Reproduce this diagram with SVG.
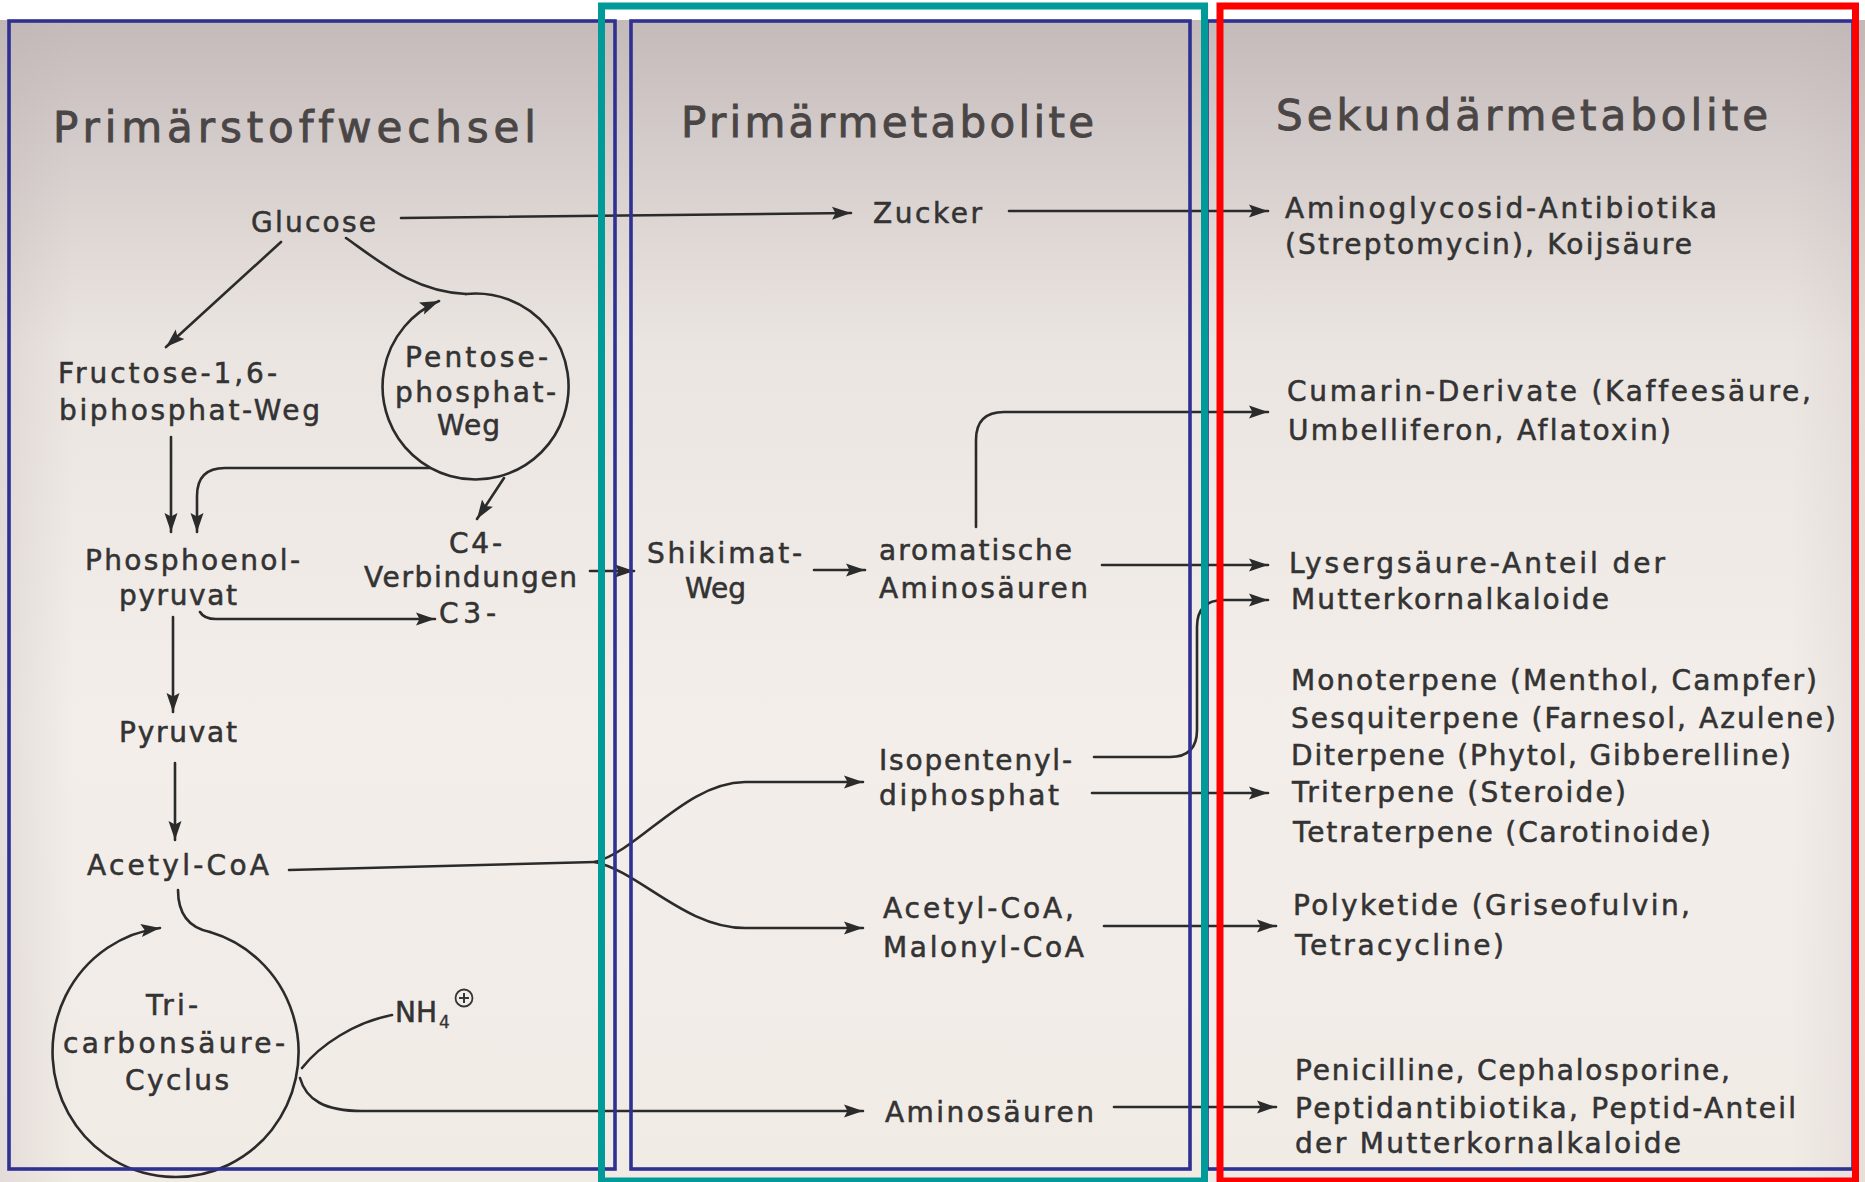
<svg xmlns="http://www.w3.org/2000/svg" width="1865" height="1182" viewBox="0 0 1865 1182">
<defs>
<linearGradient id="paper" x1="0" y1="0" x2="0" y2="1">
<stop offset="0" stop-color="#c4bab9"/>
<stop offset="0.1" stop-color="#d3cbc9"/>
<stop offset="0.28" stop-color="#ebe5e1"/>
<stop offset="0.6" stop-color="#f3eeea"/>
<stop offset="1" stop-color="#f1ebe6"/>
</linearGradient>
<linearGradient id="side" x1="0" y1="0" x2="1" y2="0">
<stop offset="0" stop-color="#b9aead" stop-opacity="0.25"/>
<stop offset="0.04" stop-color="#b9aead" stop-opacity="0"/>
<stop offset="0.96" stop-color="#b9aead" stop-opacity="0"/>
<stop offset="1" stop-color="#b9aead" stop-opacity="0.2"/>
</linearGradient>
<marker id="ah" markerUnits="userSpaceOnUse" markerWidth="22" markerHeight="16" refX="19" refY="7" orient="auto">
<path d="M0,0.5 L19,7 L0,13.5 L3.5,7 z" fill="#2b2b2b"/>
</marker>
</defs>
<style>
.t{font-family:"DejaVu Sans","Liberation Sans",sans-serif;font-size:28px;fill:#333333;stroke:#333333;stroke-width:0.55;font-variant-ligatures:none}
.h{font-family:"DejaVu Sans","Liberation Sans",sans-serif;font-size:42px;fill:#4b4646;stroke:#4b4646;stroke-width:0.9;font-variant-ligatures:none}
.c{fill:none;stroke:#2b2b2b;stroke-width:2.6;stroke-linecap:round;stroke-linejoin:round}
.a{marker-end:url(#ah)}
.fb{fill:none;stroke:#2e3192;stroke-width:3.6}
.ft{fill:none;stroke:#009b98;stroke-width:7}
.fr{fill:none;stroke:#ff0000;stroke-width:7}
</style>
<rect x="0" y="0" width="1865" height="1182" fill="#ffffff"/>
<rect x="0" y="20" width="1865" height="1162" fill="url(#paper)"/>
<rect x="0" y="20" width="1865" height="1162" fill="url(#side)"/>

<g id="headers">
<text class="h" x="53" y="142" textLength="483" lengthAdjust="spacing">Primärstoffwechsel</text>
<text class="h" x="681" y="137" textLength="413" lengthAdjust="spacing">Primärmetabolite</text>
<text class="h" x="1276" y="130" textLength="492" lengthAdjust="spacing">Sekundärmetabolite</text>
</g>

<g id="connectors">
<path class="c a" d="M401 218 L851 213"/>
<path class="c a" d="M1009 211 L1268 211"/>
<path class="c a" d="M281 242 L166 347"/>
<path class="c" d="M346 238 C380 262 415 292 466 294"/>
<path class="c a" d="M466 294 A93 93 0 1 1 439 301"/>
<path class="c a" d="M430 468 H225 Q197 468 197 496 V532"/>
<path class="c a" d="M171 437 V532"/>
<path class="c a" d="M504 478 L477 519"/>
<path class="c a" d="M200 612 Q204 619 216 619 H435"/>
<path class="c a" d="M590 571 H634"/>
<path class="c a" d="M173 617 V712"/>
<path class="c a" d="M175 763 V840"/>
<path class="c" d="M289 870 L595 862"/>
<path class="c a" d="M595 862 C640 850 685 783 745 782 H863"/>
<path class="c a" d="M595 862 C640 872 685 928 745 928 H863"/>
<path class="c" d="M178 890 C178 915 190 928 210 932"/>
<path class="c a" d="M210 932 A123 125 0 1 1 160 928"/>
<path class="c" d="M302 1068 C320 1045 355 1022 392 1015"/>
<path class="c a" d="M300 1078 C306 1100 325 1111 362 1111 H863"/>
<path class="c a" d="M814 570 H865"/>
<path class="c a" d="M1102 565 H1268"/>
<path class="c a" d="M976 527 V440 Q976 412 1004 412 H1268"/>
<path class="c a" d="M1094 757 H1170 Q1197 757 1197 730 V627 Q1197 600 1224 600 H1268"/>
<path class="c a" d="M1092 793 H1268"/>
<path class="c a" d="M1104 926 H1276"/>
<path class="c a" d="M1114 1107 H1276"/>
</g>

<g id="node-glucose"><text class="t" x="251" y="232" textLength="125" lengthAdjust="spacing">Glucose</text></g>
<g id="node-fructose">
<text class="t" x="58" y="383" textLength="219" lengthAdjust="spacing">Fructose-1,6-</text>
<text class="t" x="59" y="420" textLength="261" lengthAdjust="spacing">biphosphat-Weg</text>
</g>
<g id="node-pentose">
<text class="t" x="405" y="367" textLength="143" lengthAdjust="spacing">Pentose-</text>
<text class="t" x="395" y="402" textLength="161" lengthAdjust="spacing">phosphat-</text>
<text class="t" x="437" y="435" textLength="63" lengthAdjust="spacing">Weg</text>
</g>
<g id="node-pep">
<text class="t" x="85" y="570" textLength="215" lengthAdjust="spacing">Phosphoenol-</text>
<text class="t" x="119" y="605" textLength="118" lengthAdjust="spacing">pyruvat</text>
</g>
<g id="node-c4c3">
<text class="t" x="449" y="553" textLength="53" lengthAdjust="spacing">C4-</text>
<text class="t" x="364" y="587" textLength="213" lengthAdjust="spacing">Verbindungen</text>
<text class="t" x="439" y="623" textLength="57" lengthAdjust="spacing">C3-</text>
</g>
<g id="node-pyruvat"><text class="t" x="119" y="742" textLength="118" lengthAdjust="spacing">Pyruvat</text></g>
<g id="node-acetylcoa"><text class="t" x="87" y="875" textLength="182" lengthAdjust="spacing">Acetyl-CoA</text></g>
<g id="node-tca">
<text class="t" x="146" y="1015" textLength="52" lengthAdjust="spacing">Tri-</text>
<text class="t" x="63" y="1053" textLength="222" lengthAdjust="spacing">carbonsäure-</text>
<text class="t" x="125" y="1090" textLength="104" lengthAdjust="spacing">Cyclus</text>
</g>
<g id="node-nh4">
<text class="t" x="395" y="1022" textLength="42" lengthAdjust="spacing">NH</text>
<text class="t" x="439" y="1028" style="font-size:17px;stroke-width:0.3">4</text>
<circle cx="464" cy="998" r="8.5" fill="none" stroke="#353535" stroke-width="1.8"/>
<path d="M459 998 H469 M464 993 V1003" stroke="#353535" stroke-width="2" fill="none"/>
</g>

<g id="node-zucker"><text class="t" x="873" y="223" textLength="109" lengthAdjust="spacing">Zucker</text></g>
<g id="node-shikimat">
<text class="t" x="647" y="563" textLength="155" lengthAdjust="spacing">Shikimat-</text>
<text class="t" x="685" y="598" textLength="61" lengthAdjust="spacing">Weg</text>
</g>
<g id="node-aromatische">
<text class="t" x="879" y="560" textLength="193" lengthAdjust="spacing">aromatische</text>
<text class="t" x="879" y="598" textLength="209" lengthAdjust="spacing">Aminosäuren</text>
</g>
<g id="node-isopentenyl">
<text class="t" x="879" y="770" textLength="193" lengthAdjust="spacing">Isopentenyl-</text>
<text class="t" x="879" y="805" textLength="180" lengthAdjust="spacing">diphosphat</text>
</g>
<g id="node-malonyl">
<text class="t" x="883" y="918" textLength="191" lengthAdjust="spacing">Acetyl-CoA,</text>
<text class="t" x="883" y="957" textLength="201" lengthAdjust="spacing">Malonyl-CoA</text>
</g>
<g id="node-aminosaeuren"><text class="t" x="885" y="1122" textLength="209" lengthAdjust="spacing">Aminosäuren</text></g>

<g id="node-aminoglycosid">
<text class="t" x="1285" y="218" textLength="432" lengthAdjust="spacing">Aminoglycosid-Antibiotika</text>
<text class="t" x="1285" y="254" textLength="407" lengthAdjust="spacing">(Streptomycin), Koijsäure</text>
</g>
<g id="node-cumarin">
<text class="t" x="1287" y="401" textLength="524" lengthAdjust="spacing">Cumarin-Derivate (Kaffeesäure,</text>
<text class="t" x="1288" y="440" textLength="383" lengthAdjust="spacing">Umbelliferon, Aflatoxin)</text>
</g>
<g id="node-lysergsaeure">
<text class="t" x="1289" y="573" textLength="376" lengthAdjust="spacing">Lysergsäure-Anteil der</text>
<text class="t" x="1291" y="609" textLength="318" lengthAdjust="spacing">Mutterkornalkaloide</text>
</g>
<g id="node-terpene">
<text class="t" x="1291" y="690" textLength="526" lengthAdjust="spacing">Monoterpene (Menthol, Campfer)</text>
<text class="t" x="1291" y="728" textLength="545" lengthAdjust="spacing">Sesquiterpene (Farnesol, Azulene)</text>
<text class="t" x="1291" y="765" textLength="500" lengthAdjust="spacing">Diterpene (Phytol, Gibberelline)</text>
<text class="t" x="1292" y="802" textLength="334" lengthAdjust="spacing">Triterpene (Steroide)</text>
<text class="t" x="1293" y="842" textLength="418" lengthAdjust="spacing">Tetraterpene (Carotinoide)</text>
</g>
<g id="node-polyketide">
<text class="t" x="1293" y="915" textLength="397" lengthAdjust="spacing">Polyketide (Griseofulvin,</text>
<text class="t" x="1295" y="955" textLength="209" lengthAdjust="spacing">Tetracycline)</text>
</g>
<g id="node-penicilline">
<text class="t" x="1295" y="1080" textLength="435" lengthAdjust="spacing">Penicilline, Cephalosporine,</text>
<text class="t" x="1295" y="1118" textLength="501" lengthAdjust="spacing">Peptidantibiotika, Peptid-Anteil</text>
<text class="t" x="1295" y="1153" textLength="386" lengthAdjust="spacing">der Mutterkornalkaloide</text>
</g>

<g id="frames">
<rect class="fb" x="9" y="21" width="606" height="1148"/>
<rect class="fb" x="631" y="21" width="559" height="1148"/>
<rect class="fb" x="1207" y="21" width="646" height="1148"/>
<rect class="ft" x="601.5" y="6" width="603" height="1175"/>
<rect class="fr" x="1220" y="6" width="635.5" height="1175"/>
</g>
</svg>
